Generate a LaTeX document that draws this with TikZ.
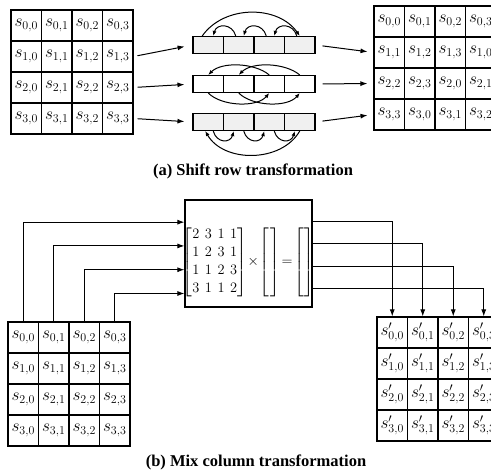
\documentclass[tikz,border=0pt]{standalone}
\usepackage{amsmath}
\usepackage{fontspec}
\setmainfont{Liberation Serif}
\usetikzlibrary{arrows.meta, calc}

\begin{document}
\begin{tikzpicture}[
    x=1pt, y=-1pt,
    every node/.style={font=\fontsize{17}{20}\selectfont},
    cell/.style={rectangle, draw=black, line width=1.1pt, minimum width=30.5pt,
                 minimum height=31pt, inner sep=0pt},
    rowcell/.style={rectangle, draw=black, line width=1.1pt, minimum width=30.5pt,
                 minimum height=17pt, inner sep=0pt},
    mixbox/.style={rectangle, draw=black, line width=1.1pt, minimum width=127pt,
                 minimum height=107pt},
    arr/.style={-{Latex[length=7pt, width=5pt]}, line width=1pt},
    bendarr/.style={-{Latex[length=5pt, width=4pt]}, line width=1pt},
    caption/.style={font=\fontsize{16.5}{19}\selectfont\bfseries},
]
\clip (0,0) rectangle (491,470);

% (a) shift row
\foreach \r in {0,...,3}
  \foreach \c in {0,...,3}
    \node[cell] (a\r\c) at (26.25+30.5*\c, 25.5+31*\r) {$s_{\r,\c}$};

\foreach \r in {0,...,3}
  \foreach \c in {0,...,3} {
    \pgfmathtruncatemacro{\k}{mod(\r+\c,4)}
    \node[cell] (b\r\c) at (389.25+30.5*\c, 21.5+31*\r) {$s_{\r,\k}$};
  }

\foreach \r/\y/\f in {1/45/gray!12, 2/84/white, 3/122/gray!12}
  \foreach \c in {0,...,3}
    \node[rowcell, fill=\f] (r\r\c) at (208.25+30.5*\c, \y) {};

\foreach \r in {1,2,3} {
  \draw[arr, shorten <=4pt, shorten >=8pt] (a\r3.east) -- (r\r0.west);
  \draw[arr, shorten <=7pt, shorten >=6pt] (r\r3.east) -- (b\r0.west);
}

\foreach \c/\d in {1/0, 2/1, 3/2}
  \draw[bendarr] ([xshift=-3pt]r1\c.north) to[out=105, in=75, looseness=1.5] ([xshift=5pt]r1\d.north);
\draw[bendarr] ([xshift=-6pt]r10.north) to[out=55, in=125] (r13.north);

\draw[bendarr] (r22.north) to[out=140, in=45, looseness=0.8] (r20.north);
\draw[bendarr] (r23.north) to[out=140, in=45, looseness=0.8] (r21.north);
\draw[bendarr] (r20.south) to[out=-45, in=-130, looseness=0.8] (r22.south);
\draw[bendarr] (r21.south) to[out=-45, in=-130, looseness=0.8] (r23.south);

\foreach \c/\d in {0/1, 1/2, 2/3}
  \draw[bendarr] ([xshift=5pt]r3\c.south) to[out=-75, in=-105, looseness=1.6] ([xshift=-5pt]r3\d.south);
\draw[bendarr] (r33.south) to[out=-120, in=-60] ([xshift=-3pt]r30.south);

\node[caption] (capa) at (253,171) {(a) Shift row transformation};

% (b) mix column
\node[mixbox] (mix) at (248.5,253.5) {};
\node[inner sep=0pt, font=\Large] (eq) at (248.5,262) {$\arraycolsep=2.8pt
  \begin{bmatrix}2&3&1&1\\1&2&3&1\\1&1&2&3\\3&1&1&2\end{bmatrix}\!\times\!
  \begin{bmatrix}\hspace{1pt}\\ \\ \\ {}\end{bmatrix}\!=\!
  \begin{bmatrix}\hspace{1pt}\\ \\ \\ {}\end{bmatrix}$};

\foreach \r in {0,...,3}
  \foreach \c in {0,...,3}
    \node[cell] (p\r\c) at (23.25+30.5*\c, 337.5+31*\r) {$s_{\r,\c}$};

\foreach \r in {0,...,3}
  \foreach \c in {0,...,3}
    \node[cell] (q\r\c) at (392.25+30.5*\c, 332.5+31*\r) {$s'_{\r,\c}$};

\foreach \c/\f in {0/0.21, 1/0.43, 2/0.65, 3/0.87}
  \draw[arr] (p0\c.north) |- ($(mix.north west)!\f!(mix.south west)$);

\foreach \c/\f in {0/0.2, 1/0.41, 2/0.62, 3/0.82}
  \draw[arr] ($(mix.north east)!\f!(mix.south east)$) -| (q0\c.north);

\node[caption] (capb) at (256,462) {(b) Mix column transformation};

\end{tikzpicture}
\end{document}
